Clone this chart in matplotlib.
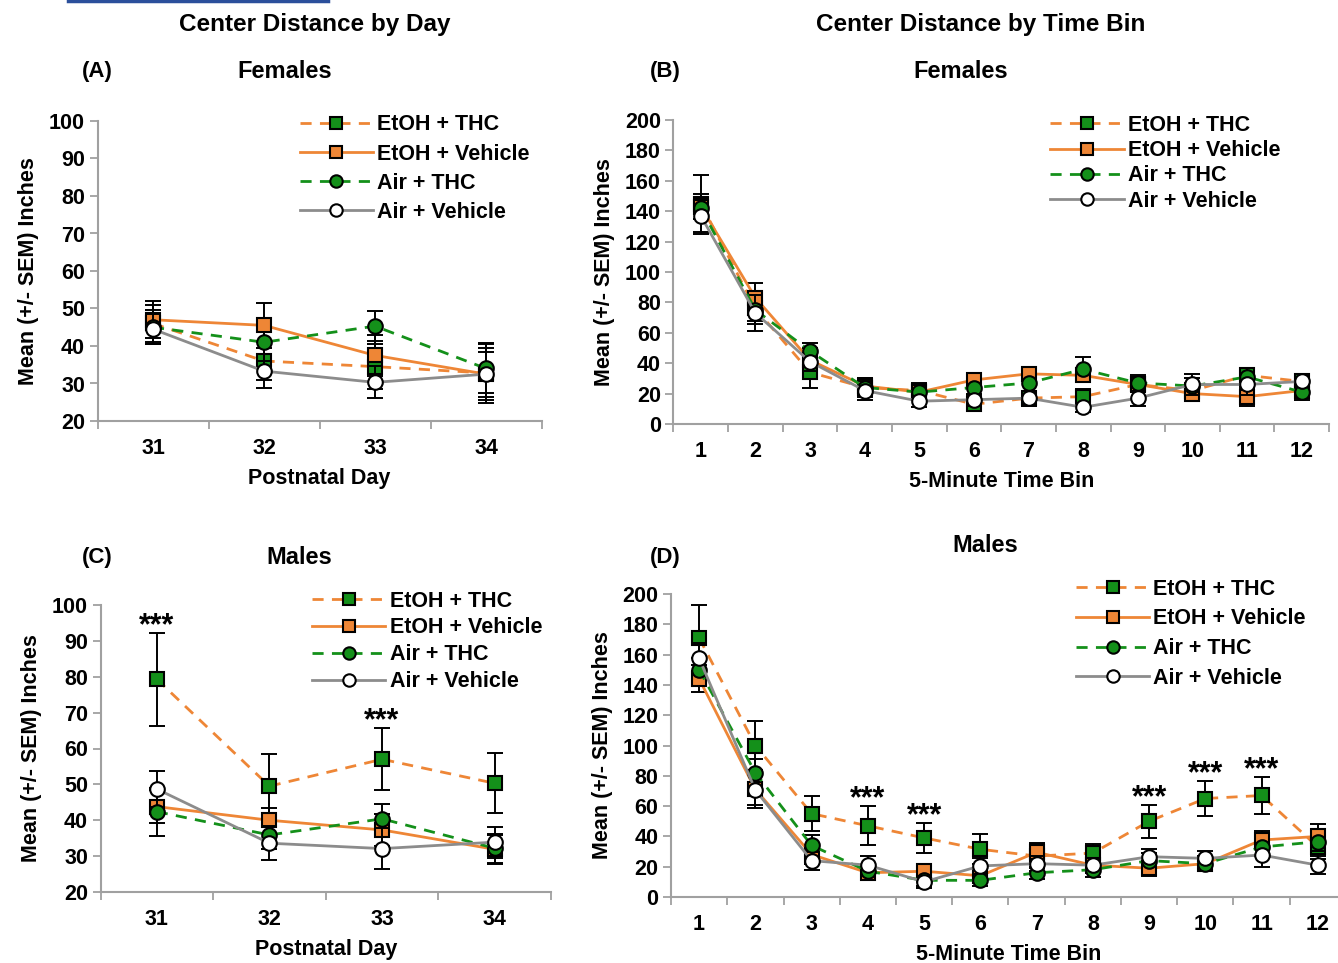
import matplotlib
matplotlib.use("Agg")
import matplotlib.pyplot as plt
from matplotlib.lines import Line2D
import numpy as np

plt.rcParams['font.family'] = ['Liberation Sans', 'DejaVu Sans']
plt.rcParams['font.weight'] = 'bold'

groups = ['EtOH + THC', 'EtOH + Vehicle', 'Air + THC', 'Air + Vehicle']

days = ['31', '32', '33', '34']
bins = [str(i) for i in range(1, 13)]

# panel A - females by day
fa_etoh_thc = [46, 36, 34.5, 32.8]
fa_etoh_veh = [47, 45.5, 37.5, 32.5]
fa_air_thc = [45, 41, 45.3, 34]
fa_air_veh = [44.5, 33.3, 30.3, 32.5]
fa_etoh_thc_sem = [5, 5, 6, 8]
fa_etoh_veh_sem = [5, 6, 5.5, 6]
fa_air_thc_sem = [4.5, 5, 4, 6.5]
fa_air_veh_sem = [4, 4.5, 4.3, 7]

# panel B - females by time bin
fb_etoh_thc = [145, 76, 34, 24, 22, 13, 17, 18, 26, 22, 32, 28]
fb_etoh_veh = [143, 83, 42, 25, 21, 29, 33, 32, 26, 20, 18, 22]
fb_air_thc = [142, 75, 48, 24, 21, 24, 27, 36, 27, 25, 31, 21]
fb_air_veh = [137, 73, 41, 22, 15, 16, 17, 11, 17, 26, 26, 28]
fb_etoh_thc_sem = [19, 8, 10, 6, 5, 3, 5, 5, 5, 5, 5, 5]
fb_etoh_veh_sem = [8, 10, 8, 5, 5, 4, 3, 4, 5, 5, 6, 5]
fb_air_thc_sem = [7, 9, 5, 5, 5, 5, 5, 8, 5, 5, 6, 5]
fb_air_veh_sem = [12, 12, 6, 6, 4, 4, 5, 3, 5, 7, 7, 5]

# panel C - males by day
mc_etoh_thc = [79.3, 49.5, 57, 50.3]
mc_etoh_veh = [43.8, 40, 37.3, 31.9]
mc_air_thc = [42.4, 35.9, 40.4, 32.2]
mc_air_veh = [48.7, 33.6, 32.1, 33.9]
mc_etoh_thc_sem = [12.9, 9, 8.7, 8.4]
mc_etoh_veh_sem = [4.5, 3.5, 4.5, 4]
mc_air_thc_sem = [6.7, 4, 4, 4]
mc_air_veh_sem = [5, 4.7, 5.8, 4.3]

# panel D - males by time bin
md_etoh_thc = [171, 100, 55, 47, 39, 31.5, 27, 29, 50, 65, 67, 33]
md_etoh_veh = [144, 71, 28, 16, 17, 14, 29.5, 21, 19, 22, 37.6, 40]
md_air_thc = [150, 82, 34, 17, 11, 11, 16, 18, 24, 22, 33, 36.5]
md_air_veh = [157.5, 70.6, 24, 21, 10, 20.5, 22, 21, 26.6, 25.5, 27.7, 21]
md_etoh_thc_sem = [22, 16, 11.7, 13, 10, 10, 8, 6, 10.8, 11.4, 12, 8]
md_etoh_veh_sem = [9, 10, 6, 5, 5, 5, 6, 5, 5, 5, 6, 8]
md_air_thc_sem = [8, 9, 7, 4, 4, 4, 4, 5, 5, 5, 6, 6]
md_air_veh_sem = [10, 12, 6, 6, 4, 5, 5, 5, 5, 5, 8, 6]

# significance marks (index of category)
c_stars = [0, 2]
d_stars = [3, 4, 8, 9, 10]

orange = '#ee8636'
green = '#14901a'
gray = '#8c8c8c'
axcol = '#a0a0a0'

styles = [
    dict(color=orange, ls=(0, (4, 3)), marker='s', mfc=green),
    dict(color=orange, ls='-', marker='s', mfc=orange),
    dict(color=green, ls=(0, (4, 3)), marker='o', mfc=green),
    dict(color=gray, ls='-', marker='o', mfc='white'),
]


def panel(ax, cats, series, sems, ylim, step, xlabel, leg_anchor, leg_space, stars=None):
    x = np.arange(len(cats))
    for k, (vals, err) in enumerate(zip(series, sems)):
        ax.errorbar(x, vals, yerr=err, fmt='none', ecolor='black', elinewidth=1.4,
                    capsize=5.5, capthick=1.4, zorder=2 + k)
    for k, (vals, st) in enumerate(zip(series, styles)):
        ax.plot(x, vals, color=st['color'], ls=st['ls'], lw=2, marker=st['marker'],
                mfc=st['mfc'], mec='black', mew=1.5, ms=10.5, label=groups[k], zorder=3 + k)
    if stars:
        top = [series[0][i] + sems[0][i] for i in stars]
        for i, t in zip(stars, top):
            ax.annotate('***', (i, t), xytext=(0, -1), textcoords='offset points',
                        ha='center', va='baseline', fontsize=22, fontweight='bold')
    ax.set_xlim(-0.5, len(cats) - 0.5)
    ax.set_ylim(*ylim)
    ax.set_yticks(np.arange(ylim[0], ylim[1] + 1, step))
    ax.set_xticks(np.arange(len(cats) + 1) - 0.5)
    ax.set_xticklabels([])
    ax.set_xticks(x, cats, minor=True)
    ax.tick_params(axis='x', which='major', length=6, width=1.3, color=axcol, direction='out')
    ax.tick_params(axis='x', which='minor', length=0, pad=12, labelsize=15.5)
    ax.tick_params(axis='y', length=6, width=1.3, color=axcol, labelsize=15.5, pad=3)
    for s in ['top', 'right']:
        ax.spines[s].set_visible(False)
    for s in ['left', 'bottom']:
        ax.spines[s].set_color(axcol)
        ax.spines[s].set_linewidth(1.5)
    ax.set_xlabel(xlabel, fontsize=15.5, fontweight='bold', labelpad=7)
    ax.set_ylabel('Mean (+/- SEM) Inches', fontsize=15.5, fontweight='bold', labelpad=7)
    ax.legend(loc='upper left', bbox_to_anchor=leg_anchor, frameon=False, fontsize=15.5,
              handlelength=3.4, handletextpad=0.2, labelspacing=leg_space, borderpad=0,
              borderaxespad=0, markerscale=0.85)


W, H = 1338, 963
fig = plt.figure(figsize=(W / 100, H / 100), dpi=100)


def box(l, r, t, b):
    return [l / W, 1 - b / H, (r - l) / W, (b - t) / H]


axA = fig.add_axes(box(97.5, 541.5, 121, 421))
axB = fig.add_axes(box(673.5, 1329, 120, 424))
axC = fig.add_axes(box(100.5, 551, 605, 892))
axD = fig.add_axes(box(671, 1346, 594, 897))

panel(axA, days, [fa_etoh_thc, fa_etoh_veh, fa_air_thc, fa_air_veh],
      [fa_etoh_thc_sem, fa_etoh_veh_sem, fa_air_thc_sem, fa_air_veh_sem],
      (20, 100), 10, 'Postnatal Day', (0.455, 1.022), 0.38)
panel(axB, bins, [fb_etoh_thc, fb_etoh_veh, fb_air_thc, fb_air_veh],
      [fb_etoh_thc_sem, fb_etoh_veh_sem, fb_air_thc_sem, fb_air_veh_sem],
      (0, 200), 20, '5-Minute Time Bin', (0.575, 1.017), 0.2)
panel(axC, days, [mc_etoh_thc, mc_etoh_veh, mc_air_thc, mc_air_veh],
      [mc_etoh_thc_sem, mc_etoh_veh_sem, mc_air_thc_sem, mc_air_veh_sem],
      (20, 100), 10, 'Postnatal Day', (0.47, 1.05), 0.27, stars=c_stars)
panel(axD, bins, [md_etoh_thc, md_etoh_veh, md_air_thc, md_air_veh],
      [md_etoh_thc_sem, md_etoh_veh_sem, md_air_thc_sem, md_air_veh_sem],
      (0, 200), 20, '5-Minute Time Bin', (0.6, 1.05), 0.4, stars=d_stars)

fig.text(315 / W, 1 - 25 / H, 'Center Distance by Day', ha='center', va='center', fontsize=17.5, fontweight='bold')
fig.text(981 / W, 1 - 24 / H, 'Center Distance by Time Bin', ha='center', va='center', fontsize=17.5, fontweight='bold')
for txt, xx, yy in [('(A)', 97, 72), ('(B)', 665, 72), ('(C)', 97, 557), ('(D)', 665, 557)]:
    fig.text(xx / W, 1 - yy / H, txt, ha='center', va='center', fontsize=16, fontweight='bold')
for txt, xx, yy in [('Females', 285, 72), ('Females', 961, 72), ('Males', 299, 557), ('Males', 985, 545)]:
    fig.text(xx / W, 1 - yy / H, txt, ha='center', va='center', fontsize=17, fontweight='bold')

fig.add_artist(Line2D([68 / W, 328 / W], [1 - 1 / H, 1 - 1 / H], color='#2b4f9b', lw=2.5))

fig.savefig('out.png', dpi=100)
